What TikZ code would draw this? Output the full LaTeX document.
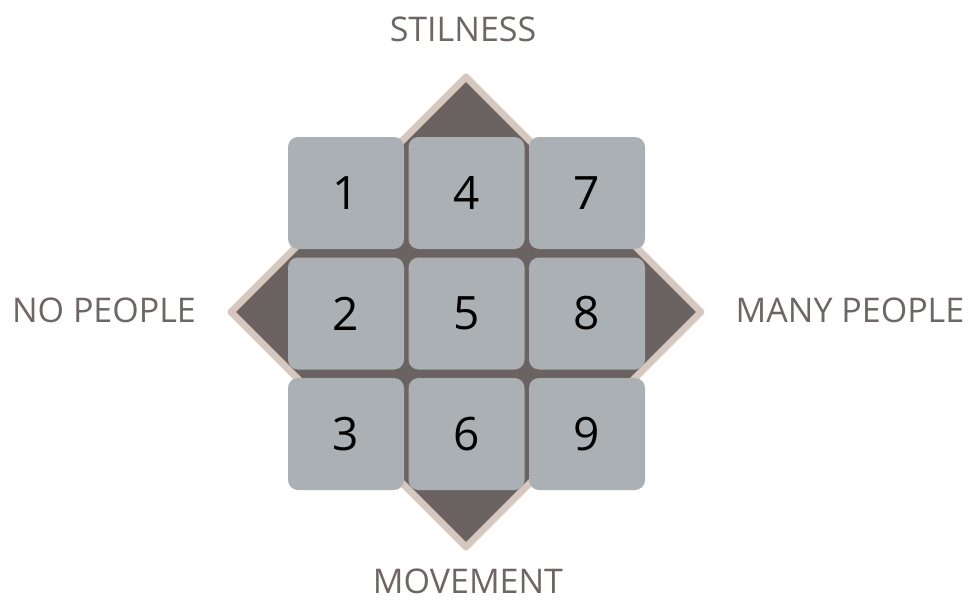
\documentclass[tikz,border=0pt]{standalone}
\usepackage{fontspec}
\setmainfont{Open Sans}
\definecolor{darkfill}{HTML}{6B6361}
\definecolor{beige}{HTML}{D6C8BE}
\definecolor{tilegray}{HTML}{ABB0B4}
\definecolor{labelgray}{HTML}{6D6664}
\tikzset{
  tile/.style={fill=tilegray, draw=none, rounded corners=10pt, minimum width=116pt, minimum height=112pt, inner sep=0pt, font=\fontsize{46}{46}\selectfont, text=black},
  axislabel/.style={font=\fontsize{34}{34}\selectfont, text=labelgray, anchor=base, inner sep=0pt},
}
\begin{document}
\begin{tikzpicture}[x=1pt,y=-1pt]
\useasboundingbox (0,0) rectangle (972,602);
% diamond
\coordinate (dt) at (466,77);
\coordinate (dr) at (701,312);
\coordinate (db) at (466,547);
\coordinate (dl) at (231,312);
\draw[fill=darkfill, draw=beige, line width=7pt, line join=round] (dt) -- (dr) -- (db) -- (dl) -- cycle;
% tiles
\node[tile] (t1) at (346,193) {1};
\node[tile] (t4) at (466.5,193) {4};
\node[tile] (t7) at (587,193) {7};
\node[tile] (t2) at (346,313.5) {2};
\node[tile] (t5) at (466.5,313.5) {5};
\node[tile] (t8) at (587,313.5) {8};
\node[tile] (t3) at (346,434) {3};
\node[tile] (t6) at (466.5,434) {6};
\node[tile] (t9) at (587,434) {9};
% labels
\node[axislabel] (stil) at (463,42) {STILNESS};
\node[axislabel] (nop) at (104,322) {NO PEOPLE};
\node[axislabel] (many) at (850,322) {MANY PEOPLE};
\node[axislabel] (move) at (468,593) {MOVEMENT};
\end{tikzpicture}
\end{document}
